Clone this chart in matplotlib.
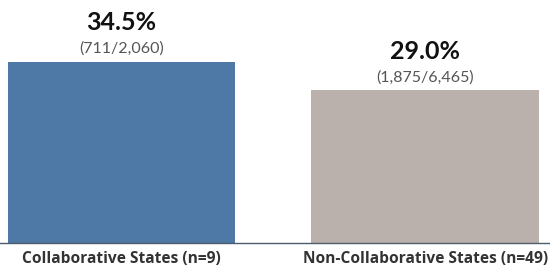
import matplotlib.pyplot as plt

# --- data ---
categories = ["Collaborative States (n=9)", "Non-Collaborative States (n=49)"]
rates = [34.5, 29.0]
count_labels = ["(711/2,060)", "(1,875/6,465)"]
bar_colors = ["#4e79a7", "#bab0ac"]

plt.rcParams['font.family'] = ['Lato', 'DejaVu Sans']

fig = plt.figure(figsize=(5.5, 2.74), dpi=100)
ax = fig.add_axes([0, 0.1131, 1, 0.8869])

x = list(range(len(categories)))
ax.bar(x, rates, width=0.75, color=bar_colors)

for xi, r, lab in zip(x, rates, count_labels):
    ax.annotate(lab, (xi, r), xytext=(0, 4.5), textcoords='offset points',
                ha='center', va='bottom', fontsize=11.5, color='#555555')
    ax.annotate(f"{r:.1f}%", (xi, r), xytext=(0, 23), textcoords='offset points',
                ha='center', va='baseline', fontsize=18, fontweight='bold',
                color='#111111')

ax.set_xlim(-0.40, 1.41)
ax.set_ylim(0, 46.2)
ax.set_yticks([])
ax.set_xticks(x)
ax.set_xticklabels(categories, fontsize=11.2, fontweight='bold', color='#333333',
                   family=['Open Sans', 'DejaVu Sans'])
ax.tick_params(axis='x', length=0, pad=6)
for s in ['top', 'right', 'left']:
    ax.spines[s].set_visible(False)
ax.spines['bottom'].set_color('#4d5d6b')
ax.spines['bottom'].set_linewidth(1)

fig.savefig("out.png", dpi=100)
